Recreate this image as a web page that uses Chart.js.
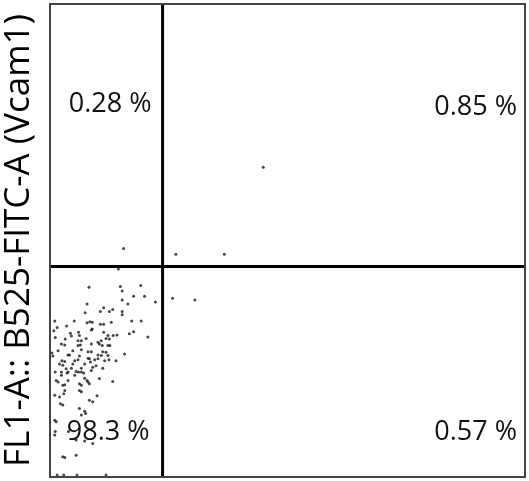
<!DOCTYPE html>
<html>
<head>
<meta charset="utf-8">
<style>
  html, body { margin: 0; padding: 0; background: #fff; }
  #wrap { width: 529px; height: 481px; }
</style>
<script src="https://cdn.jsdelivr.net/npm/chart.js@4.4.1/dist/chart.umd.min.js"></script>
</head>
<body>
<div id="wrap"><canvas id="myChart"></canvas></div>
<script>
'use strict';

// axis title + quadrant percentages
const yTitle = 'FL1-A:: B525-FITC-A (Vcam1)';
const quadLabels = ['0.28 %', '0.85 %', '98.3 %', '0.57 %']; // UL, UR, LL, LR

// gate position (same arbitrary 0-1000 units as the axes)
const gateX = 237;
const gateY = 445;

// events
const eventsX = [449, 265, 367, 258, 305, 155, 144, 82, 148, 152, 191, 176, 199, 152, 164, 222, 78, 113, 106, 125,
  132, 74, 152, 152, 10, 51, 78, 84, 89, 106, 113, 129, 172, 192, 15, 35, 89, 8, 43, 45,
  60, 62, 87, 113, 122, 133, 141, 167, 176, 206, 11, 32, 59, 66, 76, 108, 104, 101, 118, 125,
  24, 31, 59, 64, 87, 110, 122, 126, 17, 48, 66, 80, 87, 111, 118, 4, 6, 157, 38, 41,
  62, 101, 108, 122, 80, 83, 94, 101, 25, 31, 52, 59, 115, 124, 139, 20, 27, 48, 73, 85,
  34, 45, 66, 90, 97, 111, 38, 36, 55, 60, 66, 71, 87, 24, 11, 24, 52, 73, 78, 104,
  132, 13, 17, 38, 27, 31, 62, 66, 80, 83, 31, 29, 62, 66, 10, 20, 22, 27, 83, 90,
  99, 62, 73, 75, 66, 10, 13, 11, 10, 39, 55, 73, 90, 27, 31, 55, 15, 29, 57, 118];
const eventsY = [655, 471, 471, 378, 374, 483, 440, 401, 403, 393, 405, 382, 382, 374, 366, 370, 366, 358, 350, 350,
  354, 347, 350, 343, 330, 330, 326, 328, 327, 323, 323, 327, 330, 330, 316, 319, 313, 309, 304, 298,
  306, 299, 311, 306, 299, 299, 300, 303, 307, 296, 295, 292, 288, 288, 293, 288, 281, 285, 293, 292,
  281, 279, 278, 279, 281, 278, 278, 278, 267, 267, 269, 265, 265, 265, 264, 262, 256, 260, 258, 258,
  256, 258, 257, 257, 251, 250, 248, 250, 246, 244, 246, 248, 246, 248, 246, 239, 236, 239, 239, 243,
  229, 230, 230, 232, 235, 230, 222, 220, 223, 222, 222, 220, 225, 222, 222, 215, 215, 209, 204, 208,
  202, 204, 201, 204, 194, 195, 197, 194, 201, 197, 183, 176, 183, 180, 173, 169, 155, 152, 162, 159,
  172, 145, 139, 134, 131, 120, 117, 96, 89, 96, 78, 76, 71, 43, 41, 46, 4, 4, 4, 4];

const chartCanvas = document.getElementById('myChart');

function buildPoints() {
    const pts = [];
    for (let i = 0; i < eventsX.length; i++) {
        pts.push({ x: eventsX[i], y: eventsY[i] });
    }
    return pts;
}

// frame around the plot and the quadrant percentages
const quadrantPlugin = {
    id: 'quadrants',
    afterDatasetsDraw(chart) {
        const ctx = chart.ctx;
        const area = chart.chartArea;
        const gx = chart.scales.x.getPixelForValue(gateX);

        ctx.save();
        ctx.strokeStyle = '#444';
        ctx.lineWidth = 2;
        ctx.strokeRect(area.left, area.top, area.right - area.left, area.bottom - area.top);

        ctx.fillStyle = '#111';
        ctx.font = '27px "Open Sans"';
        ctx.textAlign = 'right';
        ctx.textBaseline = 'alphabetic';
        ctx.fillText(quadLabels[0], gx - 11, area.top + 108);
        ctx.fillText(quadLabels[1], area.right - 8, area.top + 111);
        ctx.fillText(quadLabels[2], gx - 13, area.bottom - 37);
        ctx.fillText(quadLabels[3], area.right - 8, area.bottom - 37);
        ctx.restore();
    }
};

new Chart(chartCanvas, {
    type: 'scatter',
    data: {
        datasets: [{
            label: 'gateX',
            type: 'line',
            data: [{ x: gateX, y: 0 }, { x: gateX, y: 1000 }],
            borderColor: '#000',
            borderWidth: 3,
            pointRadius: 0,
            order: 0
        }, {
            label: 'gateY',
            type: 'line',
            data: [{ x: 0, y: gateY }, { x: 1000, y: gateY }],
            borderColor: '#000',
            borderWidth: 3,
            pointRadius: 0,
            order: 0
        }, {
            label: 'events',
            data: buildPoints(),
            pointRadius: 1.5,
            pointBackgroundColor: 'rgba(25,25,25,0.8)',
            pointBorderWidth: 0,
            order: 1
        }]
    },
    options: {
        responsive: true,
        maintainAspectRatio: false,
        animation: false,
        layout: { padding: { left: 0, right: 3, top: 3, bottom: 2 } },
        plugins: {
            legend: { display: false },
            tooltip: { enabled: false }
        },
        scales: {
            x: {
                type: 'linear',
                min: 0,
                max: 1000,
                display: false
            },
            y: {
                type: 'linear',
                min: 0,
                max: 1000,
                grid: { display: false },
                border: { display: false },
                ticks: { display: false },
                title: {
                    display: true,
                    text: yTitle,
                    color: '#000',
                    font: { family: 'Open Sans', size: 35, lineHeight: 1 },
                    padding: { top: 2, bottom: 5 }
                }
            }
        }
    },
    plugins: [quadrantPlugin]
});
</script>
</body>
</html>
